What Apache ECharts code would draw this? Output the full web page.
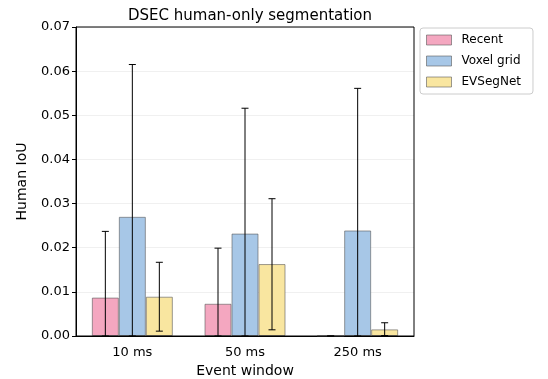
<!DOCTYPE html>
<html>
<head>
<meta charset="utf-8">
<script src="https://cdn.jsdelivr.net/npm/echarts@6/dist/echarts.min.js"></script>
<style>
  html, body { margin: 0; padding: 0; background: #fff; }
  #main { width: 548px; height: 379px; }
</style>
</head>
<body>
<div id="main"></div>
<script>
// data
var categories = ['10 ms', '50 ms', '250 ms'];
var seriesNames = ['Recent', 'Voxel grid', 'EVSegNet'];
var recentVals = [0.0087, 0.0073, 0.0];
var voxelVals = [0.0270, 0.0232, 0.0239];
var evsegVals = [0.0089, 0.0163, 0.0015];
// error bar ends (lower, upper)
var recentLow = [0.0, 0.0, 0.0];
var recentHigh = [0.0237, 0.0199, 0.0];
var voxelLow = [0.0, 0.0, 0.0];
var voxelHigh = [0.0615, 0.0516, 0.0561];
var evsegLow = [0.0011, 0.0014, 0.0001];
var evsegHigh = [0.0167, 0.0311, 0.0030];
var yTicks = [0, 0.01, 0.02, 0.03, 0.04, 0.05, 0.06, 0.07];

var colors = ['#f4a7c0', '#a7c7e7', '#f9e6a0'];
var font = 'DejaVu Sans';
var barW = 27;

var chart = echarts.init(document.getElementById('main'));

function errSeries(idx, low, high) {
    var data = [];
    for (var i = 0; i < categories.length; i++) {
        data.push([i, low[i], high[i]]);
    }
    return {
        type: 'custom',
        name: seriesNames[idx] + ' err',
        z: 10,
        silent: true,
        data: data,
        encode: { x: 0, y: [1, 2] },
        renderItem: function (params, api) {
            var off = (idx - 1) * barW;
            var lo = api.coord([api.value(0), api.value(1)]);
            var hi = api.coord([api.value(0), api.value(2)]);
            var x = lo[0] + off;
            var cap = 3.5;
            var st = { stroke: '#000', lineWidth: 1 };
            return {
                type: 'group',
                children: [
                    { type: 'line', shape: { x1: x, y1: lo[1], x2: x, y2: hi[1] }, style: st },
                    { type: 'line', shape: { x1: x - cap, y1: hi[1], x2: x + cap, y2: hi[1] }, style: st },
                    { type: 'line', shape: { x1: x - cap, y1: lo[1], x2: x + cap, y2: lo[1] }, style: st }
                ]
            };
        }
    };
}

function barSeries(idx, vals) {
    return {
        type: 'bar',
        name: seriesNames[idx],
        data: vals,
        barWidth: barW,
        barGap: '0%',
        itemStyle: { color: colors[idx], borderColor: 'rgba(90,90,90,0.6)', borderWidth: 1 }
    };
}

var gridL = 76, gridR = 134, gridT = 27, gridB = 43;

var option = {
    animation: false,
    backgroundColor: '#fff',
    title: {
        text: 'DSEC human-only segmentation',
        left: gridL + (548 - gridL - gridR) / 2,
        textAlign: 'center',
        top: 4,
        textStyle: { fontFamily: font, fontSize: 15, fontWeight: 'normal', color: '#000' }
    },
    legend: {
        data: seriesNames,
        orient: 'vertical',
        left: 420,
        top: 28,
        icon: 'rect',
        itemWidth: 25,
        itemHeight: 10,
        itemGap: 9,
        padding: [6, 12, 6, 6],
        borderColor: '#ccc',
        borderWidth: 1,
        borderRadius: 3,
        textStyle: { fontFamily: font, fontSize: 12, color: '#000', padding: [0, 0, 0, 5] },
        itemStyle: { borderColor: 'rgba(90,90,90,0.6)', borderWidth: 1 }
    },
    grid: { left: gridL, right: gridR, top: gridT, bottom: gridB, outerBoundsMode: 'none', containLabel: false },
    xAxis: {
        type: 'category',
        data: categories,
        name: 'Event window',
        nameLocation: 'middle',
        nameGap: 28,
        nameTextStyle: { fontFamily: font, fontSize: 14, color: '#000' },
        axisLine: { lineStyle: { color: '#000' } },
        axisTick: { alignWithLabel: true, lineStyle: { color: '#000' }, length: 4 },
        axisLabel: { fontFamily: font, fontSize: 13, color: '#000', margin: 10 },
        splitLine: { show: false }
    },
    yAxis: {
        type: 'value',
        min: 0,
        max: yTicks[yTicks.length - 1],
        interval: 0.01,
        name: 'Human IoU',
        nameLocation: 'middle',
        nameGap: 47,
        nameTextStyle: { fontFamily: font, fontSize: 14, color: '#000' },
        axisLine: { show: true, lineStyle: { color: '#000' } },
        axisTick: { show: true, lineStyle: { color: '#000' }, length: 4 },
        axisLabel: {
            fontFamily: font, fontSize: 13, color: '#000', margin: 6,
            formatter: function (v) { return v.toFixed(2); }
        },
        splitLine: { show: true, lineStyle: { color: '#f0f0f0', width: 1 } }
    },
    graphic: [{
        type: 'rect',
        shape: { x: gridL, y: gridT, width: 548 - gridL - gridR, height: 379 - gridT - gridB },
        style: { fill: 'none', stroke: '#000', lineWidth: 1 },
        silent: true,
        z: 100
    }],
    series: [
        barSeries(0, recentVals),
        barSeries(1, voxelVals),
        barSeries(2, evsegVals),
        errSeries(0, recentLow, recentHigh),
        errSeries(1, voxelLow, voxelHigh),
        errSeries(2, evsegLow, evsegHigh)
    ]
};

chart.setOption(option);
</script>
</body>
</html>
